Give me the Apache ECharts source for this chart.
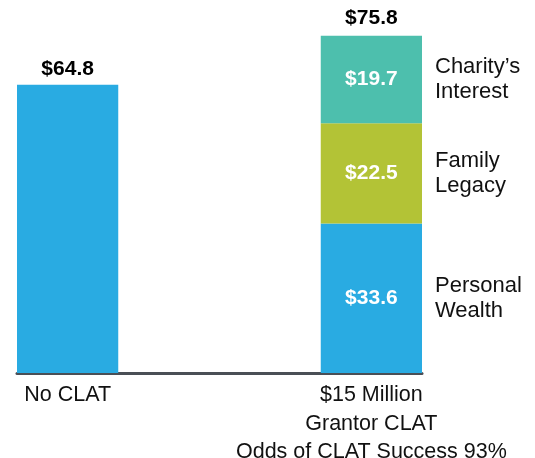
<!DOCTYPE html>
<html>
<head>
<meta charset="utf-8">
<script src="https://cdn.jsdelivr.net/npm/echarts@6/dist/echarts.min.js"></script>
<style>
  html, body { margin: 0; padding: 0; background: #fff; }
  #charts { width: 535px; height: 458px; }
</style>
</head>
<body>
<div id="charts"></div>
<script>
var categories = ['No CLAT', '', '', '$15 Million\nGrantor CLAT\nOdds of CLAT Success 93%'];
var personalWealth = [64.8, null, null, 33.6];
var familyLegacy = [null, null, null, 22.5];
var charityInterest = [null, null, null, 19.7];
var seriesNames = ['Personal\nWealth', 'Family\nLegacy', 'Charity\u2019s\nInterest'];
var colors = ['#29abe2', '#b3c336', '#4dbfad'];

var font = 'Liberation Sans, Arial, sans-serif';

function money(v) {
  return '$' + v.toFixed(1);
}

// totals on top of the stacked bar (only for stacked category)
var totals = categories.map(function (c, i) {
  return i === 3 ? personalWealth[i] + familyLegacy[i] + charityInterest[i] : null;
});

var chartDom = document.getElementById('charts');
var myChart = echarts.init(chartDom);

var valueLabel = {
  show: true,
  position: 'inside',
  color: '#fff',
  fontWeight: 'bold',
  fontSize: 21,
  fontFamily: font,
  formatter: function (p) { return money(p.value); }
};

// left bar label sits on top in black
var personalData = personalWealth.map(function (v, i) {
  if (i === 0) {
    return { value: v, label: { position: 'top', color: '#000', distance: 5 } };
  }
  return v;
});

var stackLists = [personalWealth, familyLegacy, charityInterest];

var series = [];
stackLists.forEach(function (arr, k) {
  series.push({
    name: seriesNames[k],
    type: 'bar',
    stack: 'a',
    barWidth: '100%',
    data: k === 0 ? personalData : arr,
    itemStyle: { color: colors[k] },
    label: valueLabel
  });
});

series.push({
  name: 'total',
  type: 'bar',
  stack: 'a',
  barWidth: '100%',
  data: totals.map(function (t) { return t === null ? null : 0; }),
  itemStyle: { color: 'transparent' },
  label: {
    show: true,
    position: 'top',
    distance: 7,
    color: '#000',
    fontWeight: 'bold',
    fontSize: 21,
    fontFamily: font,
    formatter: function (p) { return totals[p.dataIndex] === null ? '' : money(totals[p.dataIndex]); }
  }
});

// transparent overlay to place the segment names on the right
stackLists.forEach(function (arr, k) {
  series.push({
    name: seriesNames[k],
    type: 'bar',
    stack: 'names',
    xAxisIndex: 1,
    barWidth: '100%',
    data: arr.map(function (v, i) { return i === 3 ? v : null; }),
    itemStyle: { color: 'transparent' },
    label: {
      show: true,
      position: 'right',
      distance: 13,
      color: '#111',
      fontSize: 22,
      lineHeight: 25,
      fontFamily: font,
      formatter: function (p) { return p.seriesName; }
    }
  });
});

var option = {
  animation: false,
  grid: { left: 17, right: 113, top: 17, bottom: 85, outerBoundsMode: 'none' },
  xAxis: [
    {
      type: 'category',
      data: categories,
      axisLine: { lineStyle: { color: '#4a4f56', width: 3 } },
      axisTick: { show: false },
      axisLabel: {
        interval: 0,
        margin: 8,
        color: '#111',
        fontSize: 21.5,
        lineHeight: 28.5,
        fontFamily: font,
        verticalAlign: 'top'
      }
    },
    {
      type: 'category',
      data: categories,
      show: false
    }
  ],
  yAxis: {
    type: 'value',
    min: 0,
    max: 80,
    show: false
  },
  series: series
};

myChart.setOption(option);
</script>
</body>
</html>
